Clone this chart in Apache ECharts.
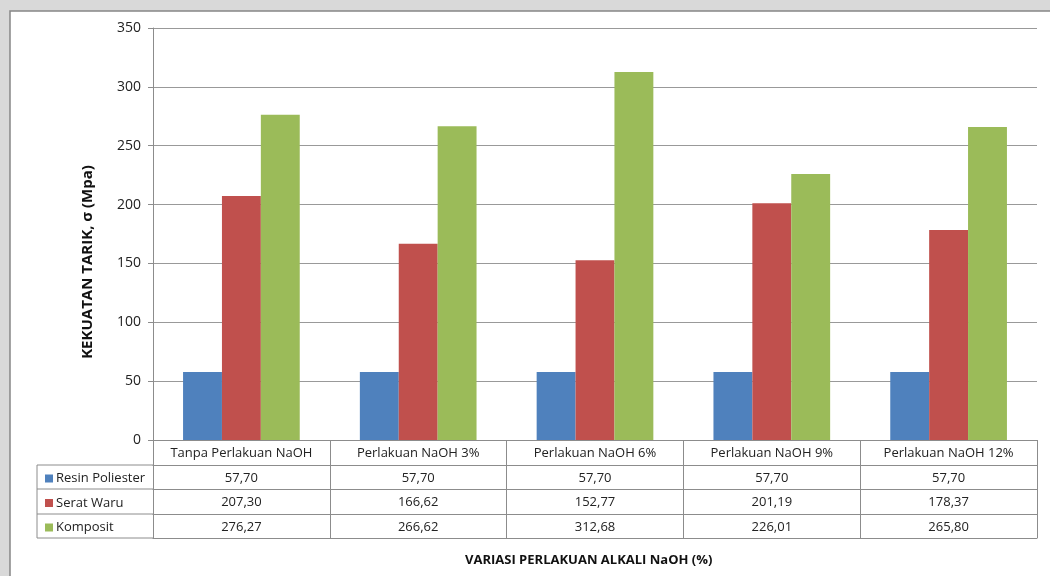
<!DOCTYPE html>
<html>
<head>
<meta charset="utf-8">
<script src="https://cdn.jsdelivr.net/npm/echarts@6/dist/echarts.min.js"></script>
<style>
    body { margin: 0; background: #d9d9d9; }
    #chart { width: 1050px; height: 576px; }
</style>
</head>
<body>
<div id="chart"></div>
<script>
    // data
    const categories = ['Tanpa Perlakuan NaOH', 'Perlakuan NaOH 3%', 'Perlakuan NaOH 6%', 'Perlakuan NaOH 9%', 'Perlakuan NaOH 12%'];
    const resin = [57.70, 57.70, 57.70, 57.70, 57.70];
    const serat = [207.30, 166.62, 152.77, 201.19, 178.37];
    const komposit = [276.27, 266.62, 312.68, 226.01, 265.80];
    const seriesNames = ['Resin Poliester', 'Serat Waru', 'Komposit'];
    const yTicks = [0, 50, 100, 150, 200, 250, 300, 350];

    const font = 'Open Sans';
    const lineColor = '#8c8c8c';
    const fmt = v => v.toFixed(2).replace('.', ',');

    // one extra category axis per table row, its labels are the row values
    function rowAxis(offset, values) {
        return {
            type: 'category',
            data: categories,
            position: 'bottom',
            offset: offset,
            axisLine: { show: true, lineStyle: { color: lineColor } },
            axisTick: { show: true, interval: 0, inside: true, length: 25, lineStyle: { color: lineColor } },
            axisLabel: {
                show: !!values,
                interval: 0,
                margin: 7,
                fontFamily: font, fontSize: 13, color: '#222',
                formatter: (v, i) => fmt(values[i])
            }
        };
    }

    let chart = echarts.init(document.getElementById('chart'));
    chart.setOption({
        animation: false,
        textStyle: { fontFamily: font },
        grid: { left: 153, right: 13, top: 28, bottom: 136 },
        title: {
            text: 'VARIASI PERLAKUAN ALKALI NaOH (%)',
            left: 460, top: 549,
            textStyle: { fontFamily: font, fontSize: 13, fontWeight: 'bold', color: '#111' }
        },
        legend: {
            orient: 'vertical',
            left: 40, top: 467,
            icon: 'rect', itemWidth: 8, itemHeight: 8, itemGap: 11.5,
            data: seriesNames,
            textStyle: { fontFamily: font, fontSize: 13, color: '#222', padding: [0, 0, 0, -2] }
        },
        graphic: [
            { type: 'rect', z: -10, shape: { x: 10, y: 11, width: 1045, height: 570 },
              style: { fill: '#fff', stroke: '#868686', lineWidth: 1.5 } },
            { type: 'text', x: 88, y: 262, rotation: Math.PI / 2,
              style: { text: 'KEKUATAN TARIK, σ (Mpa)', align: 'center', verticalAlign: 'middle',
                       fontFamily: font, fontSize: 15, fontWeight: 'bold', fill: '#111' } },
            { type: 'line', shape: { x1: 37, y1: 465, x2: 153, y2: 465 }, style: { stroke: lineColor } },
            { type: 'line', shape: { x1: 37, y1: 489, x2: 153, y2: 489 }, style: { stroke: lineColor } },
            { type: 'line', shape: { x1: 37, y1: 514, x2: 153, y2: 514 }, style: { stroke: lineColor } },
            { type: 'line', shape: { x1: 37, y1: 538, x2: 153, y2: 538 }, style: { stroke: lineColor } },
            { type: 'line', shape: { x1: 37, y1: 465, x2: 37, y2: 538 }, style: { stroke: lineColor } }
        ],
        xAxis: [
            {
                type: 'category',
                data: categories,
                axisLine: { lineStyle: { color: lineColor } },
                axisTick: { show: false },
                axisLabel: { interval: 0, margin: 7, fontFamily: font, fontSize: 13, color: '#222' }
            },
            rowAxis(25, resin),
            rowAxis(49, serat),
            rowAxis(74, komposit),
            rowAxis(98, null)
        ],
        yAxis: {
            type: 'value',
            min: yTicks[0], max: yTicks[yTicks.length - 1], interval: 50,
            axisLine: { show: true, lineStyle: { color: lineColor } },
            axisTick: { show: true, length: 5, lineStyle: { color: lineColor } },
            axisLabel: { fontFamily: font, fontSize: 14, color: '#222', margin: 12 },
            splitLine: { lineStyle: { color: '#999' } }
        },
        series: [
            { name: seriesNames[0], type: 'bar', data: resin, itemStyle: { color: '#4f81bd' }, barGap: '0%', barCategoryGap: '34%' },
            { name: seriesNames[1], type: 'bar', data: serat, itemStyle: { color: '#c0504d' } },
            { name: seriesNames[2], type: 'bar', data: komposit, itemStyle: { color: '#9bbb59' } }
        ]
    });
</script>
</body>
</html>
